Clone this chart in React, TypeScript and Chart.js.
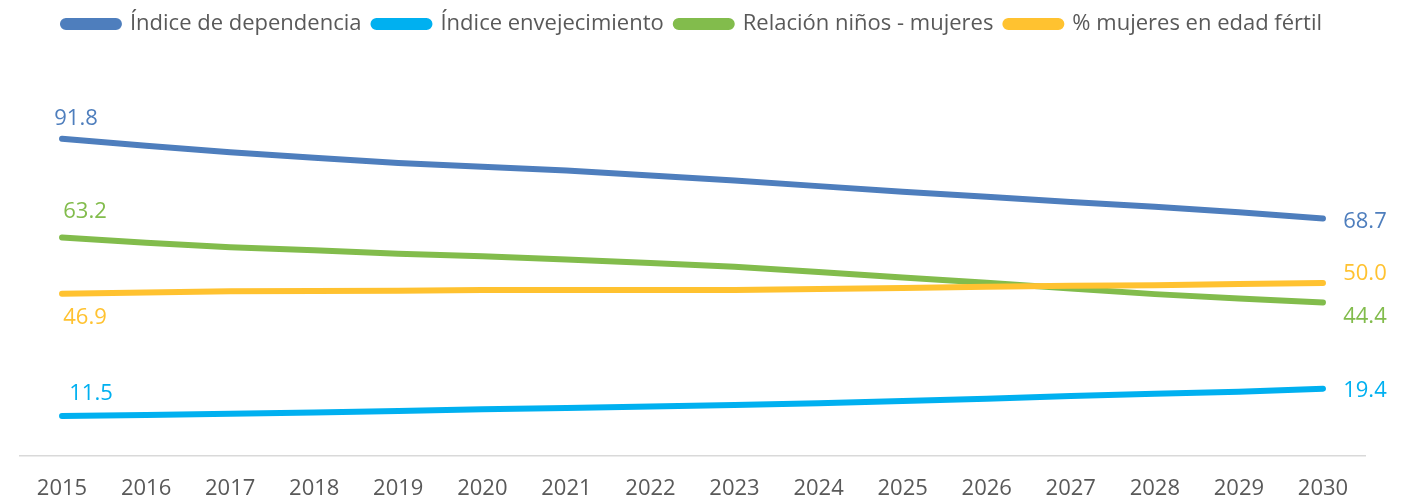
import React, { useEffect, useRef } from "react";
import { Chart, registerables } from "chart.js";

Chart.register(...registerables);

const years = ["2015", "2016", "2017", "2018", "2019", "2020", "2021", "2022", "2023", "2024", "2025", "2026", "2027", "2028", "2029", "2030"];

const indiceDependencia = [91.8, 89.8, 87.9, 86.3, 84.8, 83.7, 82.6, 81.2, 79.7, 78.1, 76.5, 75.0, 73.5, 72.1, 70.5, 68.7];
const indiceEnvejecimiento = [11.5, 11.8, 12.1, 12.5, 12.9, 13.4, 13.8, 14.2, 14.7, 15.2, 15.8, 16.5, 17.3, 17.9, 18.5, 19.4];
const relacionNinosMujeres = [63.2, 61.7, 60.4, 59.5, 58.5, 57.8, 56.8, 55.8, 54.7, 53.2, 51.6, 50.1, 48.4, 46.8, 45.5, 44.4];
const mujeresEdadFertil = [46.9, 47.3, 47.6, 47.7, 47.8, 48.0, 48.0, 48.0, 48.0, 48.3, 48.6, 48.9, 49.2, 49.4, 49.7, 50.0];

const seriesNames = ["Índice de dependencia", "Índice envejecimiento", "Relación niños - mujeres", "% mujeres en edad fértil"];
const seriesColors = ["#4E7EBD", "#00B0F0", "#82BC4C", "#FFC230"];

// label offsets (style) for first and last point of each series
const labelOffsets = [
  { first: { dx: 14, dy: -20 }, last: { dx: 42, dy: 3 } },
  { first: { dx: 29, dy: -22 }, last: { dx: 42, dy: 2 } },
  { first: { dx: 23, dy: -26 }, last: { dx: 42, dy: 14 } },
  { first: { dx: 23, dy: 24 }, last: { dx: 42, dy: -9 } },
];

const endLabelsPlugin = {
  id: "endLabels",
  afterDatasetsDraw(chart: any) {
    const ctx = chart.ctx;
    ctx.save();
    ctx.font = '22px "Open Sans"';
    ctx.textAlign = "center";
    ctx.textBaseline = "middle";
    chart.data.datasets.forEach((ds: any, i: number) => {
      const meta = chart.getDatasetMeta(i);
      const pts = meta.data;
      const n = pts.length;
      const off = labelOffsets[i];
      ctx.fillStyle = ds.borderColor;
      const p0 = pts[0];
      const pn = pts[n - 1];
      ctx.fillText(Number(ds.data[0]).toFixed(1), p0.x + off.first.dx, p0.y + off.first.dy);
      ctx.fillText(Number(ds.data[n - 1]).toFixed(1), pn.x + off.last.dx, pn.y + off.last.dy);
    });
    ctx.restore();
  },
};

export default function App() {
  const ref = useRef<HTMLCanvasElement | null>(null);

  useEffect(() => {
    if (!ref.current) return;
    const seriesData = [indiceDependencia, indiceEnvejecimiento, relacionNinosMujeres, mujeresEdadFertil];
    const chart = new Chart(ref.current, {
      type: "line",
      data: {
        labels: years,
        datasets: seriesData.map((d, i) => ({
          label: seriesNames[i],
          data: d,
          borderColor: seriesColors[i],
          backgroundColor: seriesColors[i],
          borderWidth: 6,
          borderCapStyle: "round",
          borderJoinStyle: "round",
          pointRadius: 0,
          tension: 0,
          order: i === 3 ? 0 : 1,
        })),
      },
      options: {
        animation: false,
        responsive: true,
        maintainAspectRatio: false,
        layout: { padding: { left: 20, right: 62, top: 1, bottom: -20 } },
        plugins: {
          tooltip: { enabled: false },
          legend: {
            position: "top",
            labels: {
              boxWidth: 56,
              boxHeight: 6,
              useBorderRadius: true,
              borderRadius: 3,
              padding: 12,
              color: "#595959",
              font: { family: '"Open Sans"', size: 22 },
              sort: (a: any, b: any) => a.datasetIndex - b.datasetIndex,
            },
          },
        },
        scales: {
          x: {
            offset: true,
            grid: { display: false, drawTicks: false },
            border: { display: true, color: "#D9D9D9", width: 1.5 },
            ticks: {
              color: "#595959",
              font: { family: '"Open Sans"', size: 22 },
              padding: 20,
              maxRotation: 0,
              autoSkip: false,
            },
          },
          y: {
            display: false,
            min: 0,
            max: 119,
          },
        },
      },
      plugins: [endLabelsPlugin],
    });
    return () => chart.destroy();
  }, []);

  return (
    <div style={{ position: "absolute", left: 0, top: 0, width: 1427, height: 502, background: "#ffffff" }}>
      <canvas ref={ref} />
    </div>
  );
}
